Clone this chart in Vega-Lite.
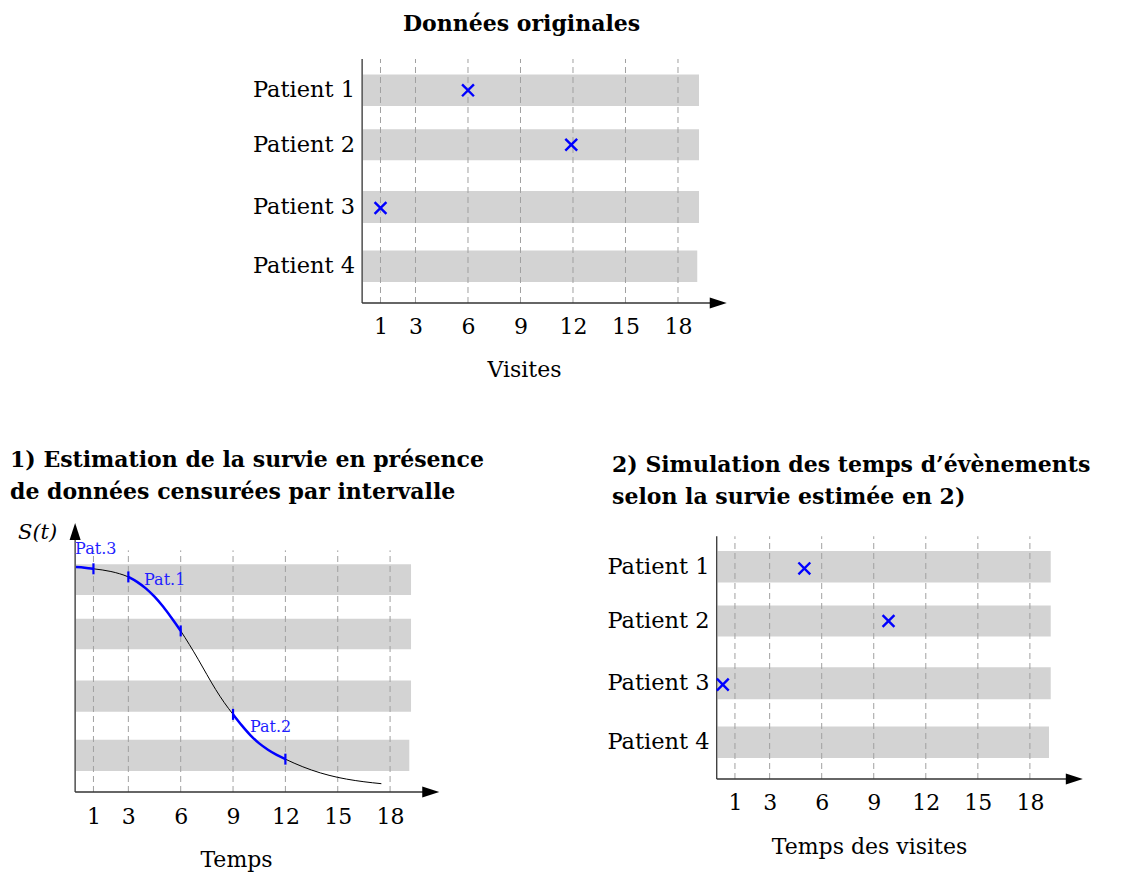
{
  "$schema": "https://vega.github.io/schema/vega-lite/v6.json",
  "padding": {"left": 10, "top": 13, "right": 5, "bottom": 5},
  "background": "white",
  "config": {"font": "DejaVu Serif", "view": {"stroke": null}},
  "datasets": {
    "bands": [
      {"patient": "Patient 1", "start": 0, "end": 19.2, "lo": 11.25, "hi": 13.05, "mid": 12.15},
      {"patient": "Patient 2", "start": 0, "end": 19.2, "lo": 8.15, "hi": 9.93, "mid": 9.04},
      {"patient": "Patient 3", "start": 0, "end": 19.2, "lo": 4.57, "hi": 6.4, "mid": 5.48},
      {"patient": "Patient 4", "start": 0, "end": 19.1, "lo": 1.2, "hi": 3.0, "mid": 2.1}
    ],
    "bandsS": [
      {"start": 0, "end": 19.2, "lo": 0.876, "hi": 1.012},
      {"start": 0, "end": 19.2, "lo": 0.634, "hi": 0.77},
      {"start": 0, "end": 19.2, "lo": 0.357, "hi": 0.496},
      {"start": 0, "end": 19.1, "lo": 0.093, "hi": 0.232}
    ],
    "ticks": [{"t": 1}, {"t": 3}, {"t": 6}, {"t": 9}, {"t": 12}, {"t": 15}, {"t": 18}],
    "eventsTop": [
      {"patient": "Patient 1", "t": 6, "y": 12.15},
      {"patient": "Patient 2", "t": 11.9, "y": 9.04},
      {"patient": "Patient 3", "t": 1, "y": 5.43}
    ],
    "eventsSim": [
      {"patient": "Patient 1", "t": 5, "y": 12.05},
      {"patient": "Patient 2", "t": 9.85, "y": 9.04},
      {"patient": "Patient 3", "t": 0.3, "y": 5.4}
    ],
    "curve": [
      {"t": 0, "s": 1.0}, {"t": 0.5, "s": 0.997}, {"t": 1, "s": 0.992}, {"t": 1.5, "s": 0.987},
      {"t": 2, "s": 0.98}, {"t": 2.5, "s": 0.97}, {"t": 3, "s": 0.956}, {"t": 3.5, "s": 0.934},
      {"t": 4, "s": 0.905}, {"t": 4.5, "s": 0.868}, {"t": 5, "s": 0.823}, {"t": 5.5, "s": 0.771},
      {"t": 6, "s": 0.716}, {"t": 6.5, "s": 0.655}, {"t": 7, "s": 0.59}, {"t": 7.5, "s": 0.522},
      {"t": 8, "s": 0.456}, {"t": 8.5, "s": 0.397}, {"t": 9, "s": 0.345}, {"t": 9.5, "s": 0.296},
      {"t": 10, "s": 0.252}, {"t": 10.5, "s": 0.216}, {"t": 11, "s": 0.188}, {"t": 11.5, "s": 0.165},
      {"t": 12, "s": 0.146}, {"t": 13, "s": 0.112}, {"t": 14, "s": 0.085}, {"t": 15, "s": 0.065},
      {"t": 16, "s": 0.051}, {"t": 17, "s": 0.041}, {"t": 17.5, "s": 0.037}
    ],
    "segments": [
      {"seg": "Pat.3", "t": 0, "s": 1.0}, {"seg": "Pat.3", "t": 0.5, "s": 0.997}, {"seg": "Pat.3", "t": 1, "s": 0.992},
      {"seg": "Pat.1", "t": 3, "s": 0.956}, {"seg": "Pat.1", "t": 3.5, "s": 0.934}, {"seg": "Pat.1", "t": 4, "s": 0.905},
      {"seg": "Pat.1", "t": 4.5, "s": 0.868}, {"seg": "Pat.1", "t": 5, "s": 0.823}, {"seg": "Pat.1", "t": 5.5, "s": 0.771},
      {"seg": "Pat.1", "t": 6, "s": 0.716},
      {"seg": "Pat.2", "t": 9, "s": 0.345}, {"seg": "Pat.2", "t": 9.5, "s": 0.296}, {"seg": "Pat.2", "t": 10, "s": 0.252},
      {"seg": "Pat.2", "t": 10.5, "s": 0.216}, {"seg": "Pat.2", "t": 11, "s": 0.188}, {"seg": "Pat.2", "t": 11.5, "s": 0.165},
      {"seg": "Pat.2", "t": 12, "s": 0.146}
    ],
    "segTicks": [
      {"t": 1, "s": 0.992}, {"t": 3, "s": 0.956}, {"t": 6, "s": 0.716}, {"t": 9, "s": 0.345}, {"t": 12, "s": 0.146}
    ],
    "segLabels": [
      {"label": "Pat.3", "t": -0.05, "s": 1.08},
      {"label": "Pat.1", "t": 3.9, "s": 0.942},
      {"label": "Pat.2", "t": 9.97, "s": 0.289}
    ]
  },
  "bounds": "flush",
  "spacing": 220,
  "vconcat": [
    {
      "width": 717,
      "height": 244,
      "title": {"text": "Données originales", "anchor": "start", "frame": "group", "dx": 393, "offset": 22, "fontSize": 22, "font": "DejaVu Serif", "fontWeight": "bold", "color": "black"},
      "layer": [
        {
          "data": {"name": "bands"},
          "mark": {"type": "rect", "color": "#d3d3d3"},
          "encoding": {
            "x": {"field": "start", "type": "quantitative", "scale": {"domain": [-20.171, 20.8], "nice": false, "zero": false}, "axis": {"values": [1, 3, 6, 9, 12, 15, 18], "grid": false, "ticks": false, "domain": false, "labelFont": "DejaVu Serif", "labelFontSize": 22, "labelColor": "black", "labelPadding": 13, "labelOverlap": false, "labelFlush": false, "title": "Visites", "titleFont": "DejaVu Serif", "titleFontSize": 22, "titleFontWeight": "normal", "titleColor": "black", "titleX": 514, "titleY": 56}},
            "x2": {"field": "end"},
            "y": {"field": "lo", "type": "quantitative", "scale": {"domain": [0, 13.94], "nice": false, "zero": false}, "axis": null},
            "y2": {"field": "hi"}
          }
        },
        {
          "data": {"name": "ticks"},
          "mark": {"type": "rule", "color": "#a0a0a0", "strokeWidth": 1, "strokeDash": [6, 4]},
          "encoding": {
            "x": {"field": "t", "type": "quantitative"},
            "y": {"datum": 0, "type": "quantitative", "axis": null},
            "y2": {"datum": 13.94}
          }
        },
        {
          "data": {"values": [{}]},
          "mark": {"type": "rule", "color": "#333333", "strokeWidth": 1.3},
          "encoding": {
            "x": {"datum": -0.05, "type": "quantitative"},
            "x2": {"datum": 20.3},
            "y": {"datum": 0, "type": "quantitative", "axis": null}
          }
        },
        {
          "data": {"values": [{}]},
          "mark": {"type": "rule", "color": "#333333", "strokeWidth": 1.3},
          "encoding": {
            "x": {"datum": -0.05, "type": "quantitative"},
            "y": {"datum": 0, "type": "quantitative", "axis": null},
            "y2": {"datum": 13.94}
          }
        },
        {
          "data": {"values": [{}]},
          "mark": {"type": "point", "shape": "M-1,-0.65L1,0L-1,0.65Z", "filled": true, "color": "black", "size": 289, "opacity": 1},
          "encoding": {
            "x": {"datum": 20.3, "type": "quantitative"},
            "y": {"datum": 0, "type": "quantitative", "axis": null}
          }
        },
        {
          "data": {"name": "bands"},
          "mark": {"type": "text", "align": "right", "baseline": "middle", "dx": -8, "fontSize": 22.5, "color": "black"},
          "encoding": {
            "x": {"datum": 0, "type": "quantitative"},
            "y": {"field": "mid", "type": "quantitative", "axis": null},
            "text": {"field": "patient"}
          }
        },
        {
          "data": {"name": "eventsTop"},
          "mark": {"type": "point", "shape": "M-1,-1L1,1M-1,1L1,-1", "filled": false, "color": "blue", "strokeWidth": 2.4, "size": 140, "opacity": 1},
          "encoding": {
            "x": {"field": "t", "type": "quantitative"},
            "y": {"field": "y", "type": "quantitative", "axis": null}
          }
        }
      ]
    },
    {
      "bounds": "flush",
      "spacing": 172,
      "hconcat": [
        {
          "width": 430,
          "height": 269,
          "title": {"text": ["1) Estimation de la survie en présence", "de données censurées par intervalle"], "anchor": "start", "frame": "group", "offset": 18, "fontSize": 22, "font": "DejaVu Serif", "fontWeight": "bold", "color": "black", "lineHeight": 31.7},
          "layer": [
            {
              "data": {"name": "bandsS"},
              "mark": {"type": "rect", "color": "#d3d3d3"},
              "encoding": {
                "x": {"field": "start", "type": "quantitative", "scale": {"domain": [-3.782, 20.86], "nice": false, "zero": false}, "axis": {"values": [1, 3, 6, 9, 12, 15, 18], "grid": false, "ticks": false, "domain": false, "labelFont": "DejaVu Serif", "labelFontSize": 22, "labelColor": "black", "labelPadding": 14, "labelOverlap": false, "labelFlush": false, "title": "Temps", "titleFont": "DejaVu Serif", "titleFontSize": 22, "titleFontWeight": "normal", "titleColor": "black", "titleX": 226, "titleY": 57}},
                "x2": {"field": "end"},
                "y": {"field": "lo", "type": "quantitative", "scale": {"domain": [0, 1.1956], "nice": false, "zero": false}, "axis": null},
                "y2": {"field": "hi"}
              }
            },
            {
              "data": {"name": "ticks"},
              "mark": {"type": "rule", "color": "#a0a0a0", "strokeWidth": 1, "strokeDash": [6, 4]},
              "encoding": {
                "x": {"field": "t", "type": "quantitative"},
                "y": {"datum": 0, "type": "quantitative", "axis": null},
                "y2": {"datum": 1.074}
              }
            },
            {
              "data": {"values": [{}]},
              "mark": {"type": "rule", "color": "#333333", "strokeWidth": 1.3},
              "encoding": {
                "x": {"datum": -0.05, "type": "quantitative"},
                "x2": {"datum": 20.33},
                "y": {"datum": 0, "type": "quantitative", "axis": null}
              }
            },
            {
              "data": {"values": [{}]},
              "mark": {"type": "rule", "color": "#333333", "strokeWidth": 1.3},
              "encoding": {
                "x": {"datum": -0.05, "type": "quantitative"},
                "y": {"datum": 0, "type": "quantitative", "axis": null},
                "y2": {"datum": 1.16}
              }
            },
            {
              "data": {"values": [{}]},
              "mark": {"type": "point", "shape": "M-1,-0.65L1,0L-1,0.65Z", "filled": true, "color": "black", "size": 289, "opacity": 1},
              "encoding": {
                "x": {"datum": 20.33, "type": "quantitative"},
                "y": {"datum": 0, "type": "quantitative", "axis": null}
              }
            },
            {
              "data": {"values": [{}]},
              "mark": {"type": "point", "shape": "M-0.65,1L0,-1L0.65,1Z", "filled": true, "color": "black", "size": 289, "opacity": 1},
              "encoding": {
                "x": {"datum": -0.05, "type": "quantitative"},
                "y": {"datum": 1.158, "type": "quantitative", "axis": null}
              }
            },
            {
              "data": {"name": "curve"},
              "mark": {"type": "line", "color": "black", "strokeWidth": 1, "interpolate": "monotone"},
              "encoding": {
                "x": {"field": "t", "type": "quantitative"},
                "y": {"field": "s", "type": "quantitative", "axis": null}
              }
            },
            {
              "data": {"name": "segments"},
              "mark": {"type": "line", "color": "blue", "strokeWidth": 2.5, "interpolate": "monotone"},
              "encoding": {
                "x": {"field": "t", "type": "quantitative"},
                "y": {"field": "s", "type": "quantitative", "axis": null},
                "detail": {"field": "seg"}
              }
            },
            {
              "data": {"name": "segTicks"},
              "mark": {"type": "point", "shape": "M0,-1L0,1", "filled": false, "color": "blue", "strokeWidth": 2.2, "size": 121, "opacity": 1},
              "encoding": {
                "x": {"field": "t", "type": "quantitative"},
                "y": {"field": "s", "type": "quantitative", "axis": null}
              }
            },
            {
              "data": {"name": "segLabels"},
              "mark": {"type": "text", "align": "left", "baseline": "middle", "fontSize": 16, "color": "#1f1fff"},
              "encoding": {
                "x": {"field": "t", "type": "quantitative"},
                "y": {"field": "s", "type": "quantitative", "axis": null},
                "text": {"field": "label"}
              }
            },
            {
              "data": {"values": [{}]},
              "mark": {"type": "text", "text": "S(t)", "align": "center", "baseline": "middle", "fontSize": 21, "fontStyle": "italic", "color": "black"},
              "encoding": {
                "x": {"datum": -2.2, "type": "quantitative"},
                "y": {"datum": 1.151, "type": "quantitative", "axis": null}
              }
            }
          ]
        },
        {
          "width": 469,
          "height": 256,
          "title": {"text": ["2) Simulation des temps d’évènements", "selon la survie estimée en 2)"], "anchor": "start", "frame": "group", "offset": 14, "fontSize": 22, "font": "DejaVu Serif", "fontWeight": "bold", "color": "black", "lineHeight": 31.7},
          "layer": [
            {
              "data": {"name": "bands"},
              "mark": {"type": "rect", "color": "#d3d3d3"},
              "encoding": {
                "x": {"field": "start", "type": "quantitative", "scale": {"domain": [-6.086, 20.945], "nice": false, "zero": false}, "axis": {"values": [1, 3, 6, 9, 12, 15, 18], "grid": false, "ticks": false, "domain": false, "labelFont": "DejaVu Serif", "labelFontSize": 22, "labelColor": "black", "labelPadding": 13, "labelOverlap": false, "labelFlush": false, "title": "Temps des visites", "titleFont": "DejaVu Serif", "titleFontSize": 22, "titleFontWeight": "normal", "titleColor": "black", "titleX": 257, "titleY": 57}},
                "x2": {"field": "end"},
                "y": {"field": "lo", "type": "quantitative", "scale": {"domain": [0, 14.65], "nice": false, "zero": false}, "axis": null},
                "y2": {"field": "hi"}
              }
            },
            {
              "data": {"name": "ticks"},
              "mark": {"type": "rule", "color": "#a0a0a0", "strokeWidth": 1, "strokeDash": [6, 4]},
              "encoding": {
                "x": {"field": "t", "type": "quantitative"},
                "y": {"datum": 0, "type": "quantitative", "axis": null},
                "y2": {"datum": 13.89}
              }
            },
            {
              "data": {"values": [{}]},
              "mark": {"type": "rule", "color": "#333333", "strokeWidth": 1.3},
              "encoding": {
                "x": {"datum": -0.05, "type": "quantitative"},
                "x2": {"datum": 20.56},
                "y": {"datum": 0, "type": "quantitative", "axis": null}
              }
            },
            {
              "data": {"values": [{}]},
              "mark": {"type": "rule", "color": "#333333", "strokeWidth": 1.3},
              "encoding": {
                "x": {"datum": -0.05, "type": "quantitative"},
                "y": {"datum": 0, "type": "quantitative", "axis": null},
                "y2": {"datum": 13.89}
              }
            },
            {
              "data": {"values": [{}]},
              "mark": {"type": "point", "shape": "M-1,-0.65L1,0L-1,0.65Z", "filled": true, "color": "black", "size": 289, "opacity": 1},
              "encoding": {
                "x": {"datum": 20.56, "type": "quantitative"},
                "y": {"datum": 0, "type": "quantitative", "axis": null}
              }
            },
            {
              "data": {"name": "bands"},
              "mark": {"type": "text", "align": "right", "baseline": "middle", "dx": -8, "fontSize": 22.5, "color": "black"},
              "encoding": {
                "x": {"datum": 0, "type": "quantitative"},
                "y": {"field": "mid", "type": "quantitative", "axis": null},
                "text": {"field": "patient"}
              }
            },
            {
              "data": {"name": "eventsSim"},
              "mark": {"type": "point", "shape": "M-1,-1L1,1M-1,1L1,-1", "filled": false, "color": "blue", "strokeWidth": 2.4, "size": 140, "opacity": 1},
              "encoding": {
                "x": {"field": "t", "type": "quantitative"},
                "y": {"field": "y", "type": "quantitative", "axis": null}
              }
            }
          ]
        }
      ]
    }
  ]
}
